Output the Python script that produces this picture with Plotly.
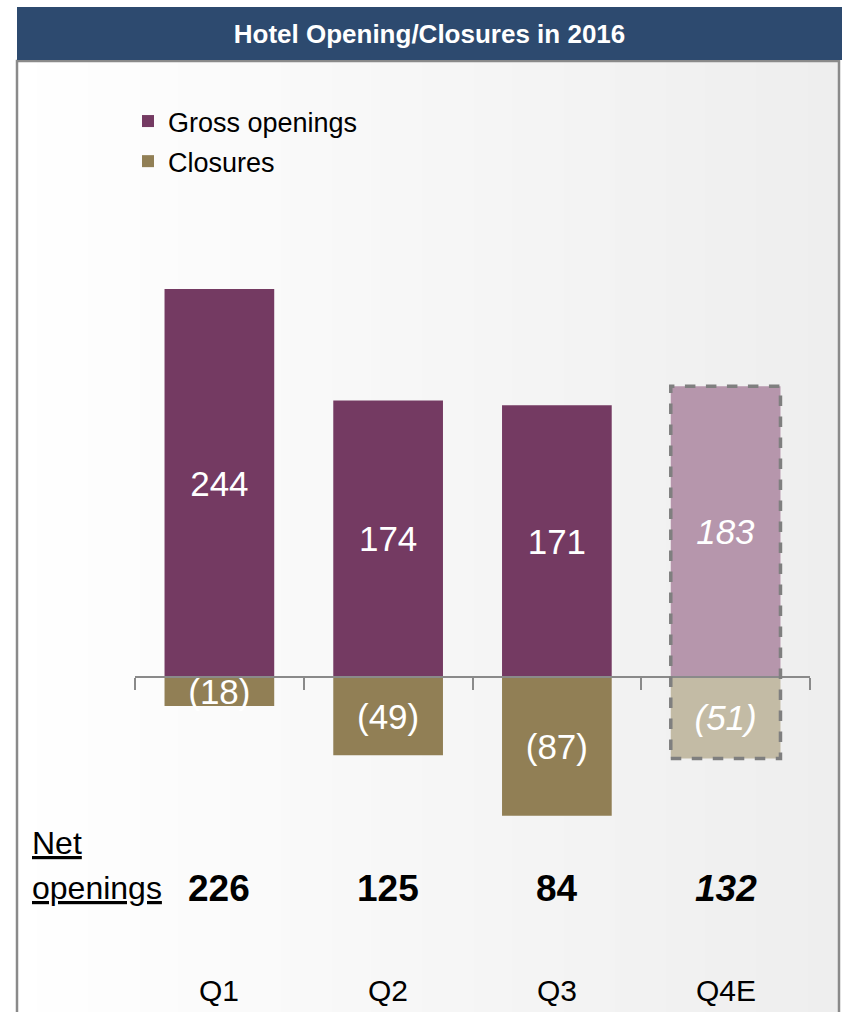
import base64, struct, zlib
import plotly.graph_objects as go

# ---------------- data ----------------
categories = ["Q1", "Q2", "Q3", "Q4E"]
gross_openings = [244, 174, 171, 183]
closures = [-18, -49, -87, -51]
is_estimate = [False, False, False, True]
net_openings = [g + c for g, c in zip(gross_openings, closures)]

title_text = "Hotel Opening/Closures in 2016"

# ---------------- styles ----------------
W, H = 842, 1012
ML, MR, MT, MB = 135, 32, 200, 182
PW, PH = W - ML - MR, H - MT - MB
Y_RANGE = [-96, 300]

C_GROSS = "#743A62"
C_GROSS_E = "#B696AC"
C_CLOS = "#917F55"
C_CLOS_E = "#C3BBA5"
NAVY = "#2D4A6F"
GRAY = "#8A8A8A"
FONT = "Liberation Sans, Arial, sans-serif"
BAR_W = 0.65


def px_x(px):
    return (px - ML) / PW


def px_y(py):
    return (H - MB - py) / PH


def gradient_png(w=64):
    row = b"\x00"
    for i in range(w):
        t = i / (w - 1)
        v = int(round(255 - t * 17))
        row += bytes([v, v, v])

    def chunk(tag, data):
        c = struct.pack(">I", len(data)) + tag + data
        return c + struct.pack(">I", zlib.crc32(tag + data) & 0xFFFFFFFF)
    png = b"\x89PNG\r\n\x1a\n"
    png += chunk(b"IHDR", struct.pack(">IIBBBBB", w, 1, 8, 2, 0, 0, 0))
    png += chunk(b"IDAT", zlib.compress(row))
    png += chunk(b"IEND", b"")
    return "data:image/png;base64," + base64.b64encode(png).decode()


def fmt_pos(v, est):
    return f"<i>{v}</i>" if est else f"{v}"


def fmt_neg(v, est):
    s = f"({abs(v)})"
    return f"<i>{s}</i>" if est else s


fig = go.Figure()

fig.add_trace(go.Bar(
    x=categories, y=gross_openings, name="Gross openings",
    marker=dict(color=[C_GROSS_E if e else C_GROSS for e in is_estimate], line=dict(width=0)),
    width=BAR_W,
    text=[fmt_pos(v, e) for v, e in zip(gross_openings, is_estimate)],
    textposition="inside", insidetextanchor="middle", textangle=0,
    constraintext="none",
    textfont=dict(color="white", size=35, family=FONT),
    legendgroup="g", hoverinfo="skip",
))
fig.add_trace(go.Bar(
    x=categories, y=closures, name="Closures",
    marker=dict(color=[C_CLOS_E if e else C_CLOS for e in is_estimate], line=dict(width=0)),
    width=BAR_W,
    text=[fmt_neg(v, e) for v, e in zip(closures, is_estimate)],
    textposition="inside", insidetextanchor="middle", textangle=0,
    constraintext="none",
    textfont=dict(color="white", size=35, family=FONT),
    legendgroup="c", hoverinfo="skip",
))

shapes = []
# box border
shapes.append(dict(type="rect", xref="paper", yref="paper",
                   x0=px_x(17), x1=px_x(839), y0=px_y(H + 5), y1=px_y(61),
                   line=dict(color=GRAY, width=2.5), fillcolor="rgba(0,0,0,0)", layer="below"))
# header band
shapes.append(dict(type="rect", xref="paper", yref="paper",
                   x0=px_x(17), x1=px_x(W + 5), y0=px_y(60), y1=px_y(7),
                   line=dict(width=0), fillcolor=NAVY, layer="below"))
# dashed outline around estimate
for i, (cat, g, c, e) in enumerate(zip(categories, gross_openings, closures, is_estimate)):
    if e:
        shapes.append(dict(type="rect", xref="x", yref="y",
                           x0=i - BAR_W / 2, x1=i + BAR_W / 2, y0=c, y1=g,
                           line=dict(color="#7F7F7F", width=3.5, dash="dash"),
                           fillcolor="rgba(0,0,0,0)", layer="above"))

annotations = []
annotations.append(dict(xref="paper", yref="paper", x=px_x(30), y=px_y(843),
                        text="<u>Net</u>", showarrow=False, xanchor="left", yanchor="middle",
                        font=dict(family=FONT, size=32, color="black")))
annotations.append(dict(xref="paper", yref="paper", x=px_x(30), y=px_y(888),
                        text="<u>openings</u>", showarrow=False, xanchor="left", yanchor="middle",
                        font=dict(family=FONT, size=32, color="black")))
for cat, n, e in zip(categories, net_openings, is_estimate):
    t = f"<b>{n}</b>"
    if e:
        t = f"<i>{t}</i>"
    annotations.append(dict(xref="x", yref="paper", x=cat, y=px_y(888), text=t,
                            showarrow=False, xanchor="center", yanchor="middle",
                            font=dict(family=FONT, size=37, color="black")))
    annotations.append(dict(xref="x", yref="paper", x=cat, y=px_y(990), text=cat,
                            showarrow=False, xanchor="center", yanchor="middle",
                            font=dict(family=FONT, size=30, color="black")))

zero_pos = (0 - Y_RANGE[0]) / (Y_RANGE[1] - Y_RANGE[0])

fig.update_layout(
    width=W, height=H,
    margin=dict(l=ML, r=MR, t=MT, b=MB, autoexpand=False),
    paper_bgcolor="white", plot_bgcolor="rgba(0,0,0,0)",
    barmode="relative",
    title=dict(text=f"<b>{title_text}</b>", x=(17 + W) / 2 / W, xanchor="center",
               y=1 - 34 / H, yanchor="middle", yref="container", xref="container",
               font=dict(family=FONT, size=26, color="white")),
    xaxis=dict(type="category", range=[-0.5, 3.5], anchor="free", position=zero_pos,
               showline=True, linecolor=GRAY, linewidth=1.5,
               ticks="outside", tickson="boundaries", ticklen=12, tickcolor=GRAY, tickwidth=1.5,
               showticklabels=False, showgrid=False, zeroline=False, fixedrange=True),
    yaxis=dict(range=Y_RANGE, visible=False, showgrid=False, zeroline=False, fixedrange=True),
    showlegend=True,
    legend=dict(xref="container", yref="container", x=128 / W, y=1 - 97 / H,
                xanchor="left", yanchor="top", bgcolor="rgba(0,0,0,0)",
                font=dict(family=FONT, size=27, color="black"),
                traceorder="grouped", tracegroupgap=2, itemclick=False, itemdoubleclick=False),
    shapes=shapes, annotations=annotations,
    images=[dict(source=gradient_png(), xref="paper", yref="paper",
                 x=px_x(17), y=px_y(61), sizex=px_x(839) - px_x(17), sizey=px_y(61) - px_y(H),
                 xanchor="left", yanchor="top", sizing="stretch", layer="below")],
    bargap=0.35,
)

fig.write_html("out.html")
